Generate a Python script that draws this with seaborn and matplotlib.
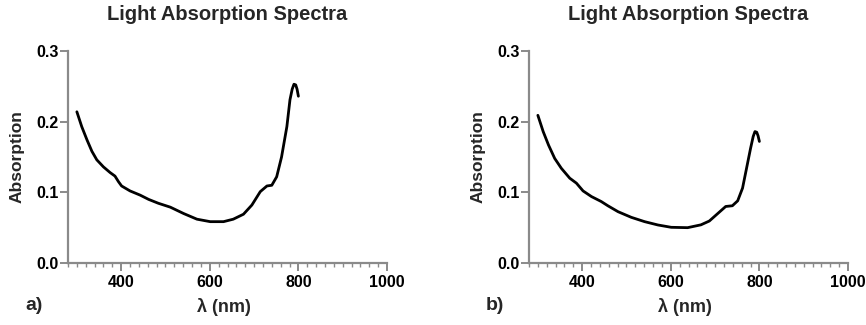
import numpy as np
import pandas as pd
import matplotlib
matplotlib.use("Agg")
import matplotlib.pyplot as plt
from matplotlib.ticker import MultipleLocator, FormatStrFormatter
import seaborn as sns

# ---- data ----
wl_a = [300, 311, 323, 334, 345, 360, 375, 386, 394, 401, 420, 443, 462, 484, 511,
        541, 571, 601, 631, 653, 676, 695, 714, 729, 740, 751, 762, 774, 781, 786,
        790, 794, 797, 800]
abs_a = [0.214, 0.193, 0.174, 0.158, 0.146, 0.136, 0.128, 0.123, 0.115, 0.109,
         0.102, 0.096, 0.090, 0.0845, 0.079, 0.070, 0.062, 0.0585, 0.0585, 0.062,
         0.069, 0.082, 0.101, 0.109, 0.110, 0.122, 0.150, 0.193, 0.231, 0.246,
         0.253, 0.252, 0.246, 0.236]

wl_b = [300, 312, 324, 338, 353, 372, 387, 402, 421, 443, 458, 481, 511, 541, 571,
        601, 638, 668, 687, 706, 724, 739, 751, 762, 771, 780, 786, 790, 794, 797, 800]
abs_b = [0.209, 0.186, 0.167, 0.148, 0.134, 0.120, 0.113, 0.102, 0.094, 0.087,
         0.081, 0.0726, 0.0646, 0.0585, 0.0538, 0.0505, 0.050, 0.054, 0.0594, 0.070,
         0.080, 0.081, 0.088, 0.106, 0.134, 0.162, 0.179, 0.186, 0.185, 0.180, 0.172]

panel_labels = ["a)", "b)"]
title = "Light Absorption Spectra"
xlabel = "λ (nm)"
ylabel = "Absorption"
y_ticks = [0.0, 0.1, 0.2, 0.3]
x_major = [400, 600, 800, 1000]

sns.set_theme(style="ticks")
plt.rcParams["font.family"] = ["Liberation Sans", "DejaVu Sans"]
plt.rcParams["font.weight"] = "bold"

fig = plt.figure(figsize=(8.66, 3.25), dpi=100)
W, H = 866, 325
axes_px = [(68, 387), (529, 848)]
top_px, bot_px = 51, 263
spine_col = "#8a8a8a"

datasets = [(wl_a, abs_a), (wl_b, abs_b)]
for i, ((x0, x1), (wl, ab)) in enumerate(zip(axes_px, datasets)):
    ax = fig.add_axes([x0 / W, 1 - bot_px / H, (x1 - x0) / W, (bot_px - top_px) / H])
    df = pd.DataFrame({"wl": wl, "abs": ab})
    sns.lineplot(data=df, x="wl", y="abs", ax=ax, color="black", linewidth=2.0,
                 sort=False, estimator=None)
    ax.set_xlim(280, 1000)
    ax.set_ylim(0, 0.3)
    ax.set_yticks(y_ticks)
    ax.yaxis.set_major_formatter(FormatStrFormatter("%.1f"))
    ax.set_xticks(x_major)
    ax.xaxis.set_minor_locator(MultipleLocator(20))
    for s in ["top", "right"]:
        ax.spines[s].set_visible(False)
    for s in ["left", "bottom"]:
        ax.spines[s].set_color(spine_col)
        ax.spines[s].set_linewidth(1.6)
    ax.tick_params(axis="both", which="major", color=spine_col, width=1.4,
                   labelsize=11.5, labelcolor="black")
    ax.tick_params(axis="x", which="major", length=5.5, pad=3)
    ax.tick_params(axis="y", which="major", length=6, pad=1)
    ax.tick_params(axis="x", which="minor", color=spine_col, width=1.0, length=3)
    for lab in ax.get_xticklabels() + ax.get_yticklabels():
        lab.set_fontweight("bold")
    ax.set_xlabel(xlabel, fontsize=13, fontweight="bold")
    ax.set_ylabel(ylabel, fontsize=12.5, fontweight="bold")
    ax.xaxis.set_label_coords(0.49, -0.165)
    ax.yaxis.set_label_coords(-0.135, 0.5)
    ax.set_title(title, fontsize=14.5, fontweight="bold", pad=0, va="center",
                 y=1 + (top_px - 15) / (bot_px - top_px))
    fig.text((x0 - 43) / W, 1 - 306 / H, panel_labels[i], fontsize=14,
             fontweight="bold", ha="left", va="center")

fig.savefig("out.png", dpi=100)
